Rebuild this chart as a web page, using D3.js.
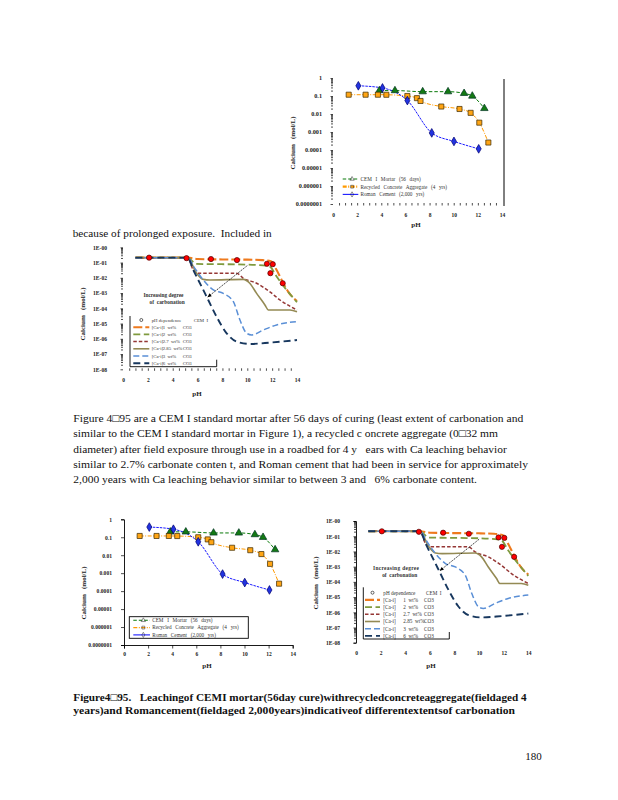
<!DOCTYPE html>
<html>
<head>
<meta charset="utf-8">
<title>Figure 4-95</title>
<script src="https://cdn.jsdelivr.net/npm/d3@7"></script>
<style>
  body { margin: 0; background: #fff; }
  svg { display: block; }
  text { white-space: pre; }
</style>
</head>
<body>
<svg id="page" width="618" height="800"></svg>
<script>
// pH axis, shared by all four plots
const phTicks = [0, 2, 4, 6, 8, 10, 12, 14];
const fieldYLabels = ["1", "0.1", "0.01", "0.001", "0.0001", "0.00001", "0.000001", "0.0000001"];
const modelYLabels = ["1E-00", "1E-01", "1E-02", "1E-03", "1E-04", "1E-05", "1E-06", "1E-07", "1E-08"];

// field samples, Ca in mol/L (top right + bottom left)
const sampleNames = ["CEM I Mortar (56 days)", "Recycled Concrete Aggregate (4 yrs)", "Roman Cement (2,000 yrs)"];
const cemPH = [3.84, 5.13, 7.43, 9.53, 10.86, 11.54, 12.54];
const cemCa = [0.20, 0.20, 0.174, 0.174, 0.141, 0.10, 0.0204];
const rcaPH = [1.3, 2.7, 3.72, 4.42, 6.16, 6.95, 7.25, 8.97, 10.48, 11.4, 12.12, 12.87];
const rcaCa = [0.118, 0.118, 0.118, 0.117, 0.10, 0.076, 0.053, 0.026, 0.019, 0.0116, 0.0033, 0.00026];
const romanPH = [2.1, 4.1, 6.16, 8.18, 10.02, 12.07];
const romanCa = [0.37, 0.28, 0.056, 0.00089, 0.00030, 0.000116];

// model curves (middle left + bottom right)
const pHdepPH = [2.1, 5.11, 7.08, 9.17, 11.58, 12.05, 11.86, 12.85];
const pHdepCa = [0.21, 0.195, 0.17, 0.145, 0.083, 0.078, 0.020, 0.0044];
const co3Amounts = ["1", "2", "2.7", "2.85", "3", "6"];
const ca1PH = [1.0, 5.2, 6.0, 8.0, 10.0, 11.2, 11.9, 12.36, 12.63, 12.9, 13.3, 14.0];
const ca1Ca = [0.21, 0.21, 0.17, 0.16, 0.155, 0.145, 0.12, 0.032, 0.012, 0.0044, 0.0012, 0.0003];
const ca2PH = [1.0, 5.2, 5.9, 7.0, 9.0, 10.75, 11.5, 11.82, 12.36, 13.16, 14.0];
const ca2Ca = [0.21, 0.21, 0.081, 0.079, 0.076, 0.069, 0.063, 0.054, 0.012, 0.0016, 0.00025];
const ca27PH = [1.0, 5.2, 5.66, 6.06, 7.5, 9.14, 9.68, 10.75, 11.82, 12.63, 14.0];
const ca27Ca = [0.21, 0.21, 0.032, 0.020, 0.020, 0.020, 0.0093, 0.0044, 0.0012, 0.00035, 0.000078];
const ca285PH = [1.0, 5.2, 5.92, 6.46, 7.0, 9.68, 10.2, 10.75, 11.42, 11.69, 13.43, 14.0];
const ca285Ca = [0.21, 0.21, 0.020, 0.0079, 0.0072, 0.0079, 0.0044, 0.00095, 0.000166, 0.000078, 0.000078, 0.00006];
const ca3PH = [1.0, 5.2, 5.8, 6.46, 7.27, 8.07, 8.87, 9.41, 9.95, 10.35, 11.29, 12.36, 14.0];
const ca3Ca = [0.21, 0.21, 0.040, 0.0072, 0.0016, 0.00095, 0.00028, 0.000017, 0.0000023, 0.0000018, 0.0000038, 0.0000081, 0.0000135];
const ca6PH = [1.0, 5.2, 5.66, 6.33, 6.86, 7.53, 8.34, 9.14, 10.21, 11.82, 14.0];
const ca6Ca = [0.21, 0.21, 0.032, 0.0026, 0.00035, 0.000028, 0.0000023, 0.00000065, 0.00000046, 0.00000056, 0.00000083];
// "increasing degree of carbonation" arrow, [pH, Ca]
const arrowFrom = [10.0, 0.063];
const arrowTo = [6.8, 0.00053];

// running text
const introLine = "because of prolonged exposure.  Included in";
const paraLines = [
  "Figure 4\u25A195 are a CEM I standard mortar after 56 days of curing (least extent of carbonation and",
  "similar to the CEM I standard mortar in Figure 1), a recycled c oncrete aggregate (0\u25A132 mm",
  "diameter) after field exposure through use in a roadbed for 4 y   ears with Ca leaching behavior",
  "similar to 2.7% carbonate conten t, and Roman cement that had been in service for approximately",
  "2,000 years with Ca leaching behavior similar to between 3 and   6% carbonate content."
];
const captionLines = [
  "Figure4\u25A195.   Leachingof CEMI mortar(56day cure)withrecycledconcreteaggregate(fieldaged 4",
  "years)and Romancement(fieldaged 2,000years)indicativeof differentextentsof carbonation"
];
const pageNumber = "180";

const svg = d3.select("#page");
const serif = '"Liberation Serif", "Times New Roman", serif';

function textLine(str, x, y, size, right, bold) {
  const t = svg.append("text").attr("x", x).attr("y", y)
    .attr("font-family", serif).attr("font-size", size).attr("fill", "#111").text(str);
  if (bold) t.attr("font-weight", "bold");
  if (right) t.attr("textLength", right - x).attr("lengthAdjust", "spacingAndGlyphs");
  return t;
}

textLine(introLine, 72.7, 236.5, 10.5, 271.7);
const paraRight = [523.3, 498, 506.7, 528, 477];
paraLines.forEach((l, i) => textLine(l, 73.3, 422 + i * 15.3, 10.5, paraRight[i]));
textLine(captionLines[0], 73.3, 701, 10.5, 526.7, true);
textLine(captionLines[1], 73.3, 714.4, 10.5, 515, true);
textLine(pageNumber, 541.7, 760, 11).attr("text-anchor", "end");

// ---- plot frame: axes + titles ----
function drawPlot(c) {
  const g = svg.append("g").attr("font-family", serif);
  const x = d3.scaleLinear().domain([0, 14]).range([c.left, c.right]);
  const y = d3.scaleLog().domain([Math.pow(10, 1 - c.yLabels.length), 1]).range([c.bottom, c.top]);

  const majors = c.yLabels.map((_, i) => Math.pow(10, -i));
  const minors = y.ticks().filter(v => !majors.some(m => Math.abs(v / m - 1) < 1e-6));

  const yAx = g.append("g").attr("transform", `translate(${c.left},0)`)
    .call(d3.axisLeft(y).tickValues(majors).tickFormat((d, i) => c.yLabels[i])
      .tickSize(c.yTick).tickPadding(c.yPad));
  if (!c.yLine) yAx.select(".domain").remove();
  yAx.selectAll("text").attr("font-size", c.yFont).attr("font-weight", "bold")
    .attr("font-family", serif).attr("fill", "#222");

  if (c.yMinor) {
    g.append("g").attr("transform", `translate(${c.left},0)`)
      .call(d3.axisLeft(y).tickValues(minors).tickFormat("").tickSize(c.yMinor))
      .select(".domain").remove();
  }

  const xAx = g.append("g").attr("transform", `translate(0,${c.bottom})`)
    .call(d3.axisBottom(x).tickValues(phTicks).tickSize(c.xTick).tickPadding(c.xPad));
  if (!c.xLine) xAx.select(".domain").remove();
  xAx.selectAll("text").attr("font-size", 5.5).attr("font-weight", "bold")
    .attr("font-family", serif).attr("fill", "#222");

  if (c.xMinor) {
    g.append("g").attr("transform", `translate(0,${c.bottom - 1})`)
      .call(d3.axisBottom(x).tickValues(d3.range(0.5, 14, 0.5)).tickFormat("").tickSize(2.5))
      .select(".domain").remove();
  }
  g.selectAll(".tick line").attr("stroke-width", 0.7);
  g.selectAll(".domain").attr("stroke-width", 0.9);

  if (c.frameRight) {
    g.append("line").attr("x1", c.right + 2).attr("x2", c.right + 2)
      .attr("y1", c.top + 1).attr("y2", c.bottom + 2)
      .attr("stroke", "#000").attr("stroke-width", 1);
  }

  g.append("text").attr("x", c.pH[0]).attr("y", c.pH[1]).attr("dy", "0.35em")
    .attr("text-anchor", "middle").attr("font-size", 7).attr("font-weight", "bold")
    .attr("fill", "#222").text("pH");
  g.append("text").attr("transform", `translate(${c.cal[0]},${c.cal[1]}) rotate(-90)`)
    .attr("dy", "0.35em").attr("text-anchor", "middle").attr("font-size", 7)
    .attr("font-weight", "bold").attr("fill", "#222").text("Calcium   (mol/L)");
  return { g, x, y };
}

// ---- field sample plot ----
const fieldSeries = [
  { name: sampleNames[0], ph: cemPH, ca: cemCa, color: "#0a7a0a", dash: "3.5,2", width: 1,
    symbol: d3.symbolTriangle, size: 24, fill: "#137a13", stroke: "#032" },
  { name: sampleNames[1], ph: rcaPH, ca: rcaCa, color: "#ff9a00", dash: "4,1.5,1,1.5", width: 1,
    symbol: d3.symbolSquare, size: 26, fill: "#ffa514", stroke: "#3a2800" },
  { name: sampleNames[2], ph: romanPH, ca: romanCa, color: "#1a1aff", dash: "2.5,1", width: 1,
    symbol: d3.symbolDiamond, size: 22, fill: "#2233e0", stroke: "#000070" }
];

function drawField(c) {
  const { g, x, y } = drawPlot(c);
  const line = d3.line().x(d => x(d[0])).y(d => y(d[1])).curve(d3.curveMonotoneX);

  fieldSeries.forEach(s => {
    const pts = s.ph.map((p, i) => [p, s.ca[i]]);
    g.append("path").datum(pts).attr("d", line).attr("fill", "none")
      .attr("stroke", s.color).attr("stroke-width", s.width).attr("stroke-dasharray", s.dash);
  });
  fieldSeries.forEach(s => {
    const pts = s.ph.map((p, i) => [p, s.ca[i]]);
    g.selectAll(null).data(pts).enter().append("path")
      .attr("transform", d => `translate(${x(d[0])},${y(d[1])})`)
      .attr("d", d3.symbol().type(s.symbol).size(s.size))
      .attr("fill", s.fill).attr("stroke", s.stroke).attr("stroke-width", 0.7);
  });

  const L = c.legend;
  if (L.box) {
    g.append("rect").attr("x", L.box[0]).attr("y", L.box[1])
      .attr("width", L.box[2] - L.box[0]).attr("height", L.box[3] - L.box[1])
      .attr("fill", "none").attr("stroke", "#000").attr("stroke-width", 0.9);
  }
  fieldSeries.forEach((s, i) => {
    const yy = L.y + i * L.dy;
    g.append("line").attr("x1", L.x).attr("x2", L.x + L.len).attr("y1", yy).attr("y2", yy)
      .attr("stroke", s.color).attr("stroke-width", i === 1 && !L.box ? 2.2 : 1.1)
      .attr("stroke-dasharray", i === 2 ? null : s.dash);
    g.append("path").attr("transform", `translate(${L.x + L.len * 0.6},${yy})`)
      .attr("d", d3.symbol().type(s.symbol).size(8))
      .attr("fill", "none").attr("stroke", "#222").attr("stroke-width", 0.5);
    g.append("text").attr("x", L.x + L.len + 2.2).attr("y", yy).attr("dy", "0.35em")
      .attr("font-size", 5.2).attr("word-spacing", 2.4).attr("fill", "#333").text(s.name);
  });
}

// ---- model plot ----
const modelSeries = [
  { ph: ca1PH, ca: ca1Ca, color: "#ee7a1e", dash: "9,3", width: 2.1 },
  { ph: ca2PH, ca: ca2Ca, color: "#7f9a3e", dash: "7,3.5", width: 1.8 },
  { ph: ca27PH, ca: ca27Ca, color: "#953735", dash: "3.5,2", width: 1.5 },
  { ph: ca285PH, ca: ca285Ca, color: "#948a54", dash: null, width: 1.6 },
  { ph: ca3PH, ca: ca3Ca, color: "#5a8fd6", dash: "6,3", width: 1.5 },
  { ph: ca6PH, ca: ca6Ca, color: "#17375e", dash: "7,4", width: 1.9 }
].map((s, i) => Object.assign(s, { amount: co3Amounts[i] }));

function drawModel(c) {
  const { g, x, y } = drawPlot(c);
  const line = d3.line().x(d => x(d[0])).y(d => y(d[1])).curve(d3.curveMonotoneX);

  modelSeries.forEach(s => {
    const pts = s.ph.map((p, i) => [p, s.ca[i]]);
    g.append("path").datum(pts).attr("d", line).attr("fill", "none")
      .attr("stroke", s.color).attr("stroke-width", s.width).attr("stroke-dasharray", s.dash);
  });

  // arrow
  const ax1 = x(arrowFrom[0]), ay1 = y(arrowFrom[1]), ax2 = x(arrowTo[0]), ay2 = y(arrowTo[1]);
  g.append("line").attr("x1", ax1).attr("y1", ay1).attr("x2", ax2).attr("y2", ay2)
    .attr("stroke", "#000").attr("stroke-width", 0.8).attr("stroke-dasharray", "1.3,0.9");
  const ang = Math.atan2(ay2 - ay1, ax2 - ax1) * 180 / Math.PI;
  g.append("path").attr("d", "M0,0L-4,-1.8L-4,1.8Z").attr("fill", "#000")
    .attr("transform", `translate(${ax2},${ay2}) rotate(${ang})`);
  g.append("text").attr("x", x(3.25)).attr("y", y(0.00076)).attr("dy", "0.35em")
    .attr("text-anchor", "middle").attr("font-size", 5.4).attr("font-weight", "bold")
    .attr("fill", "#333").attr("textLength", c.noteW).attr("lengthAdjust", "spacing")
    .text("Increasing degree");
  g.append("text").attr("x", x(3.55)).attr("y", y(0.00026)).attr("dy", "0.35em")
    .attr("text-anchor", "middle").attr("font-size", 5.4).attr("font-weight", "bold")
    .attr("fill", "#333").text("of  carbonation");

  // pH dependence points
  g.selectAll(null).data(pHdepPH.map((p, i) => [p, pHdepCa[i]])).enter().append("circle")
    .attr("cx", d => x(d[0])).attr("cy", d => y(d[1])).attr("r", 2.6)
    .attr("fill", "#ff0000").attr("stroke", "#4a0000").attr("stroke-width", 0.7);

  // legend
  const L = c.legend;
  const lg = g.append("g").attr("font-size", L.font).attr("fill", "#333");
  lg.append("circle").attr("cx", L.x + L.len / 2).attr("cy", L.y).attr("r", 1.5)
    .attr("fill", "none").attr("stroke", "#000").attr("stroke-width", 0.6);
  lg.append("text").attr("x", L.tx).attr("y", L.y).attr("dy", "0.35em").text("pH dependence");
  lg.append("text").attr("x", L.tx + L.cem).attr("y", L.y).attr("dy", "0.35em").text("CEM  I");
  modelSeries.forEach((s, i) => {
    const yy = L.y + (i + 1) * L.dy;
    lg.append("line").attr("x1", L.x).attr("x2", L.x + L.len).attr("y1", yy).attr("y2", yy)
      .attr("stroke", s.color).attr("stroke-width", s.width).attr("stroke-dasharray", s.dash);
    lg.append("text").attr("x", L.tx).attr("y", yy).attr("dy", "0.35em").text("[Ca-i]");
    lg.append("text").attr("x", L.tx + L.c2).attr("y", yy).attr("dy", "0.35em").text(s.amount + "  wt%");
    lg.append("text").attr("x", L.tx + L.c3).attr("y", yy).attr("dy", "0.35em").text("CO3");
  });
  const b = L.border;
  lg.append("path").attr("d", `M${b[0]},${b[1]}V${b[2]}H${b[3]}V${b[2] - 7}`)
    .attr("fill", "none").attr("stroke", "#000").attr("stroke-width", 0.9);
}

drawField({
  left: 333, right: 502, top: 78, bottom: 204, yLabels: fieldYLabels, yFont: 6.2,
  yTick: 2.5, yPad: 8.5, yMinor: 2, xTick: 0, xPad: 9, xMinor: true,
  yLine: false, xLine: false, frameRight: true,
  pH: [416, 225], cal: [293, 143],
  legend: { x: 342.7, y: 179, dy: 7.7, len: 15.6, box: null }
});

drawModel({
  left: 123, right: 297, top: 247.3, bottom: 369.3, yLabels: modelYLabels, yFont: 5.6,
  yTick: 2.5, yPad: 13.5, yMinor: 2, xTick: 0, xPad: 8.7, xMinor: true,
  yLine: false, xLine: false, pH: [197, 394], cal: [83, 314], noteW: 40,
  legend: { x: 133.3, y: 320, dy: 7.2, len: 16, tx: 151.7, c2: 11, c3: 31, cem: 42, font: 4.8,
            border: [130, 316, 366.7, 216.7] }
});

drawField({
  left: 124, right: 292.7, top: 519.3, bottom: 645, yLabels: fieldYLabels, yFont: 5.6,
  yTick: 3, yPad: 9, yMinor: 0, xTick: 3.5, xPad: 3.8, xMinor: false,
  yLine: true, xLine: true, frameRight: false,
  pH: [207, 666], cal: [84, 593],
  legend: { x: 133.3, y: 620.3, dy: 7.3, len: 16.7, box: [129.3, 616.7, 248.3, 638.3] }
});

drawModel({
  left: 356, right: 528.3, top: 521, bottom: 642.7, yLabels: modelYLabels, yFont: 5.6,
  yTick: 2.5, yPad: 13.5, yMinor: 2, xTick: 0, xPad: 8.6, xMinor: false,
  yLine: true, xLine: false, pH: [431, 666], cal: [316, 583], noteW: 46,
  legend: { x: 365, y: 592.7, dy: 7.2, len: 15, tx: 383.3, c2: 20, c3: 40.7, cem: 42.7, font: 5.2,
            border: [363.3, 587.3, 639, 449.3] }
});
</script>
</body>
</html>
